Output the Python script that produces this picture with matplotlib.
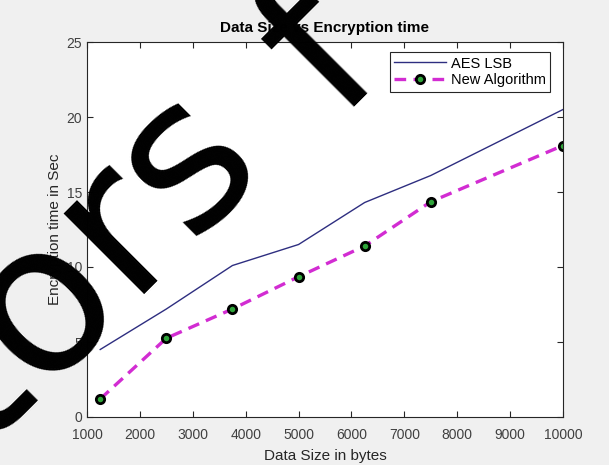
import numpy as np
import matplotlib.pyplot as plt

plt.rcParams['font.family'] = ['Liberation Sans', 'DejaVu Sans']

# data size in bytes
data_size = [1250, 2500, 3750, 5000, 6250, 7500, 10000]

# encryption time in seconds
aes_lsb = [4.5, 7.2, 10.1, 11.5, 14.3, 16.1, 20.5]
new_algo = [1.2, 5.25, 7.2, 9.35, 11.4, 14.35, 18.1]

fig = plt.figure(figsize=(6.09, 4.65), dpi=100, facecolor='#f0f0f0')
ax = fig.add_axes([87/609, 1 - 417/465, 476/609, 375/465])

ax.plot(data_size, aes_lsb, color='#2e2e80', lw=1.0, label='AES LSB')
ax.plot(data_size, new_algo, color='#d22cd2', lw=2.4, ls=(0, (3.5, 2.2)),
        marker='o', ms=6, mfc='#2fa43a', mec='black', mew=2.0,
        label='New Algorithm')

ax.set_xlim(1000, 10000)
ax.set_ylim(0, 25)
ax.set_xticks(np.arange(1000, 10001, 1000))
ax.set_yticks(np.arange(0, 26, 5))
ax.tick_params(direction='in', top=True, right=True, length=4,
               labelsize=10, colors='#262626', labelcolor='#404040')
ax.tick_params(axis='x', pad=8)
for s in ax.spines.values():
    s.set_color('#262626')
    s.set_linewidth(0.8)

ax.set_title('Data Size vs Encryption time', fontsize=11, fontweight='bold',
             color='black', pad=7)
ax.set_xlabel('Data Size in bytes', fontsize=11, color='#262626', labelpad=5)
ax.set_ylabel('Encryption time in Sec', fontsize=11, color='#262626', labelpad=3)

leg = ax.legend(loc='upper right', fontsize=10.5, fancybox=False,
                framealpha=1, edgecolor='#262626', handlelength=3.6,
                borderpad=0.3, labelspacing=0.2, handletextpad=0.3,
                borderaxespad=0, bbox_to_anchor=(0.973, 0.973))
leg.get_frame().set_linewidth(0.8)

# watermark lettering over the figure
wm = dict(fontsize=150, color='black', family='DejaVu Sans', rotation=45,
          rotation_mode='anchor', ha='left', va='baseline')
fig.text(-18/609, 1 - 451/465, 'tors', **wm)
fig.text(336/609, 1 - 119/465, 'f', **wm)

fig.savefig('out.png', dpi=100, facecolor=fig.get_facecolor())
